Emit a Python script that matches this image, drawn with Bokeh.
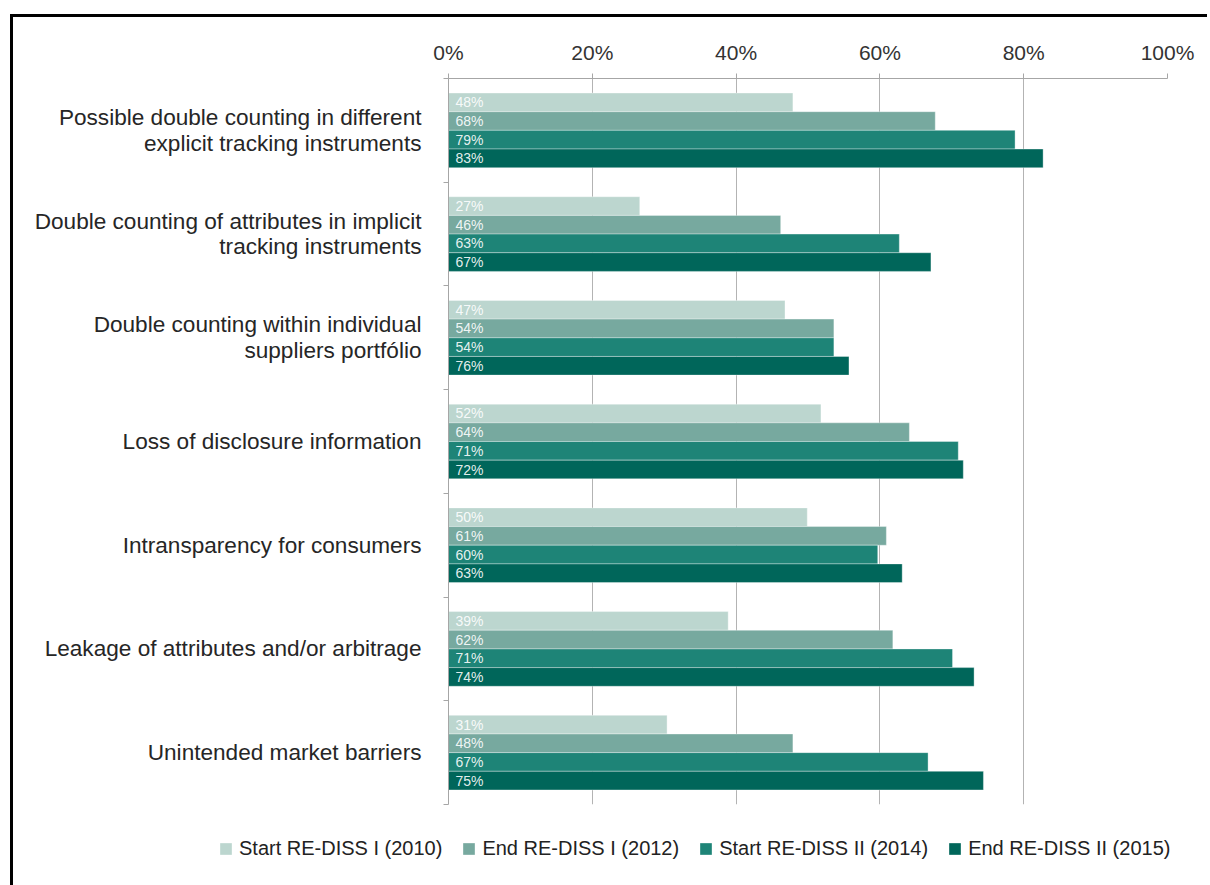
from bokeh.plotting import figure
from bokeh.models import ColumnDataSource, Range1d, FixedTicker, PrintfTickFormatter, Legend, LegendItem
from bokeh.core.properties import value
from bokeh.embed import file_html
from bokeh.resources import INLINE

categories = [
    "Possible double counting in different\nexplicit tracking instruments",
    "Double counting of attributes in implicit\ntracking instruments",
    "Double counting within individual\nsuppliers portfólio",
    "Loss of disclosure information",
    "Intransparency for consumers",
    "Leakage of attributes and/or arbitrage",
    "Unintended market barriers",
]
series_names = [
    "Start RE-DISS I (2010)",
    "End RE-DISS I (2012)",
    "Start RE-DISS II (2014)",
    "End RE-DISS II (2015)",
]
# bar lengths as drawn (percent)
start_2010 = [47.9, 26.6, 46.8, 51.8, 49.9, 38.9, 30.4]
end_2012 = [67.7, 46.2, 53.6, 64.1, 60.9, 61.8, 47.9]
start_2014 = [78.8, 62.7, 53.6, 70.9, 59.7, 70.1, 66.7]
end_2015 = [82.7, 67.1, 55.7, 71.6, 63.1, 73.1, 74.4]
# data labels as printed
lab_2010 = ["48%", "27%", "47%", "52%", "50%", "39%", "31%"]
lab_2012 = ["68%", "46%", "54%", "64%", "61%", "62%", "48%"]
lab_2014 = ["79%", "63%", "54%", "71%", "60%", "71%", "67%"]
lab_2015 = ["83%", "67%", "76%", "72%", "63%", "74%", "75%"]
x_ticks = [0, 20, 40, 60, 80, 100]

series_values = [start_2010, end_2012, start_2014, end_2015]
series_labels = [lab_2010, lab_2012, lab_2014, lab_2015]
colors = ["#bcd6cf", "#77a99f", "#1e8477", "#00665a"]

FONT = "Liberation Sans"
n = len(categories)

p = figure(width=1197, height=807, x_range=Range1d(0, 100), y_range=Range1d(n, 0),
           x_axis_location="above", output_backend="svg", toolbar_location=None,
           min_border_left=435, min_border_right=43, min_border_top=61, min_border_bottom=20)
p.outline_line_color = None
p.styles = {"border-top": "3px solid black", "border-left": "3px solid black"}
p.margin = (14, 0, 0, 10)

# top axis
xa = p.xaxis[0]
xa.ticker = FixedTicker(ticks=x_ticks)
xa.formatter = PrintfTickFormatter(format="%d%%")
xa.major_label_text_font = FONT
xa.major_label_text_font_size = "21px"
xa.major_label_text_color = "#333333"
xa.axis_line_color = "#a6a6a6"
xa.major_tick_line_color = "#a6a6a6"
xa.major_tick_out = 5
xa.major_tick_in = 0
xa.minor_tick_line_color = None
xa.major_label_standoff = 10

# left axis
ya = p.yaxis[0]
centers = [i + 0.5 for i in range(n)]
ya.ticker = FixedTicker(ticks=centers, minor_ticks=list(range(n + 1)))
ya.major_label_overrides = {c: cat for c, cat in zip(centers, categories)}
ya.major_label_text_font = FONT
ya.major_label_text_font_size = "22.6px"
ya.major_label_text_color = "#262626"
ya.major_label_text_line_height = 1.03
ya.major_tick_in = 0
ya.major_tick_out = 0
ya.major_tick_line_color = None
ya.minor_tick_in = 0
ya.minor_tick_out = 5
ya.minor_tick_line_color = "#a6a6a6"
ya.axis_line_color = "#a6a6a6"
ya.major_label_standoff = 22

p.xgrid.ticker = FixedTicker(ticks=x_ticks)
p.xgrid.grid_line_color = "#b3b3b3"
p.ygrid.visible = False

bh = 0.18
for k in range(4):
    src = ColumnDataSource(dict(
        y=[i + 0.5 + (k - 1.5) * bh for i in range(n)],
        right=series_values[k],
        label=series_labels[k],
    ))
    p.hbar(y="y", left=0, right="right", height=bh, source=src,
           fill_color=colors[k], line_color="white", line_alpha=0.35, line_width=1)
    p.text(x=0, y="y", text="label", source=src, x_offset=7,
           text_baseline="middle", text_align="left", text_font_size="14px",
           text_font=value(FONT), text_color="white", text_alpha=0.9)

# legend strip below the chart (separate root so its frame is not aligned to the chart)
q = figure(width=1197, height=64, x_range=Range1d(0, 1), y_range=Range1d(0, 1),
           x_axis_type=None, y_axis_type=None, output_backend="svg", toolbar_location=None,
           min_border_left=0, min_border_right=0, min_border_top=0, min_border_bottom=0)
q.outline_line_color = None
q.grid.visible = False
q.styles = {"border-left": "3px solid black"}
q.margin = (0, 0, 0, 10)
items = []
for k in range(4):
    # legend swatch proxy, placed outside the visible range
    r = q.hbar(y="y", left=0, right="right", height=1,
               source=ColumnDataSource(dict(y=[-5.0], right=[0.0])),
               fill_color=colors[k], line_color="white", line_alpha=0.35, line_width=1)
    items.append(LegendItem(label=series_names[k], renderers=[r]))
legend = Legend(items=items, orientation="horizontal", location=(205, 25),
                label_text_font=FONT, label_text_font_size="20px", label_text_color="#222222",
                glyph_width=15, glyph_height=15, label_standoff=6, spacing=19,
                padding=0, margin=0, border_line_color=None, background_fill_alpha=0)
q.add_layout(legend)

open("out.html", "w").write(file_html([p, q], INLINE))
